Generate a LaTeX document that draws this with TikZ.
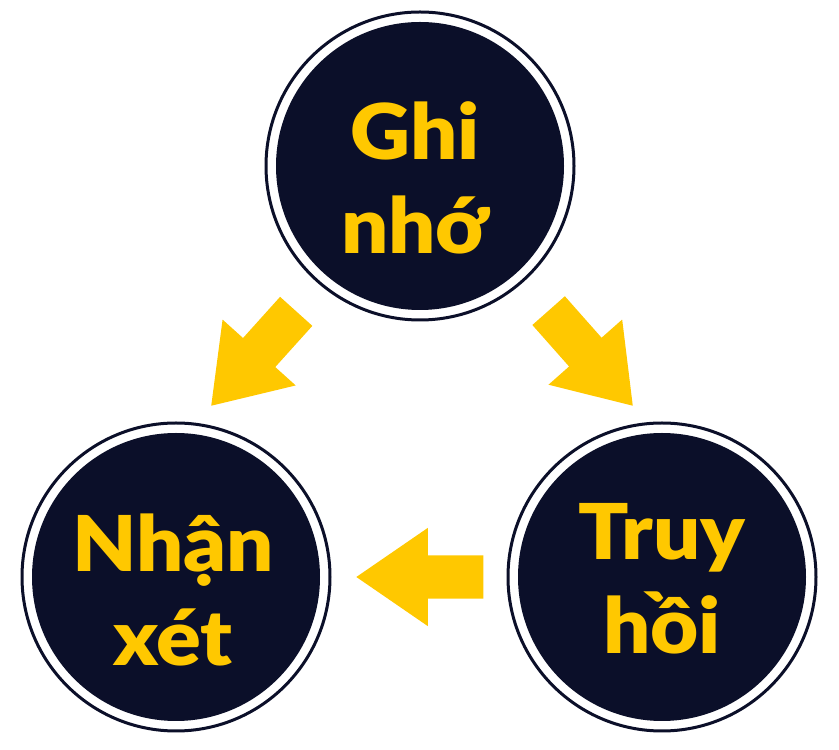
\documentclass[tikz,border=0pt]{standalone}
\usepackage{fontspec}
\setmainfont{Lato}[BoldFont={Lato Black}, BoldFeatures={FakeStretch=1.08}]
\usetikzlibrary{shapes.arrows}

\definecolor{navy}{HTML}{0B0F29}
\definecolor{gold}{HTML}{FFC800}

\tikzset{
  stage/.style={circle, minimum size=308pt, inner sep=0pt,
    draw=navy, line width=3pt, fill=white,
    path picture={\fill[navy] (path picture bounding box.center) circle (144pt);}},
  stagetext/.style={text=gold, align=center, inner sep=0pt,
    font=\fontsize{77}{94}\selectfont\bfseries},
  flow/.style={single arrow, fill=gold, inner xsep=0pt, inner ysep=21.5pt,
    minimum height=127pt, anchor=tip,
    single arrow head extend=27.5pt, single arrow tip angle=69}
}

\begin{document}
\begin{tikzpicture}[x=1pt, y=1pt]
    \useasboundingbox (0,0) rectangle (839,750);

    % Three stages
    \node[stage] (ghi) at (420,584) {};
    \node[stage] (nhanxet) at (176,173) {};
    \node[stage] (truyhoi) at (662,173) {};

    % Labels, a little below centre
    \node[stagetext] (ghitext) at ([xshift=-5pt, yshift=-12pt]ghi) {Ghi\\nhớ};
    \node[stagetext] (nhanxettext) at ([xshift=-3pt, yshift=-13pt]nhanxet) {Nhận\\xét};
    \node[stagetext] (truyhoitext) at ([yshift=-2pt]truyhoi) {Truy\\hồi};

    % Block arrows between stages (placed by their tips)
    \node[flow, rotate=228] (ghi2nhan) at (211,344) {};
    \node[flow, rotate=-48.5] (ghi2truy) at (633,344) {};
    \node[flow, rotate=180] (truy2nhan) at (356,173) {};
\end{tikzpicture}
\end{document}
